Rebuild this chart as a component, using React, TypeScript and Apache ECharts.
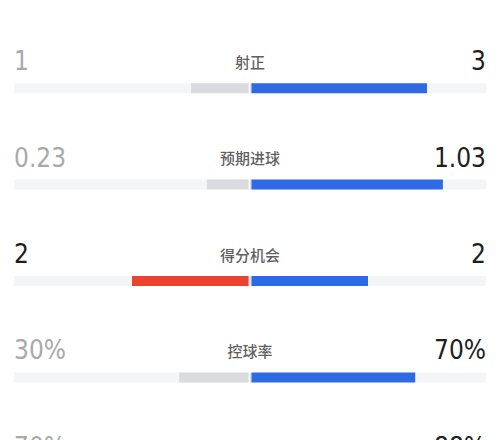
import React, { useEffect, useRef } from "react";
import * as echarts from "echarts";

// match stats: home (left) vs away (right)
const categories = ["射正", "预期进球", "得分机会", "控球率", "传球成功率"];
const leftValues = [1, 0.23, 2, 30, 70];
const rightValues = [3, 1.03, 2, 70, 88];
const leftLabels = ["1", "0.23", "2", "30%", "70%"];
const rightLabels = ["3", "1.03", "2", "70%", "88%"];

const BLUE = "#2d6ae3";
const RED = "#ea4332";
const GREY_BAR = "#d9dbdf";
const TRACK = "#f4f5f7";
const DARK = "#1e1e1e";
const LIGHT = "#a9a9a9";
const NUM_FONT = '"DejaVu Sans Condensed", "Liberation Sans Narrow", sans-serif';

const App: React.FC = () => {
  const chartRef = useRef<HTMLDivElement>(null);

  useEffect(() => {
    document.body.style.margin = "0";
    if (!chartRef.current) return;
    const chart = echarts.init(chartRef.current, undefined, { renderer: "svg" });

    const shareL = leftValues.map((v, i) => v / (v + rightValues[i]));
    const shareR = rightValues.map((v, i) => v / (leftValues[i] + v));
    const leftLoses = leftValues.map((v, i) => v < rightValues[i]);

    const numLabel = {
      show: true,
      distance: 0,
      offset: [0, -27],
      fontFamily: NUM_FONT,
      fontSize: 26,
    };

    const option: echarts.EChartsOption = {
      animation: false,
      grid: { left: 14, right: 14, top: 40, height: 482, outerBoundsMode: "none" } as any,
      xAxis: { type: "value", min: -1, max: 1, show: false },
      yAxis: { type: "category", data: categories, inverse: true, show: false },
      series: [
        {
          type: "bar",
          name: "trackL",
          barWidth: 10,
          barGap: "-100%",
          silent: true,
          itemStyle: { color: TRACK },
          label: {
            ...numLabel,
            position: "insideLeft",
            formatter: (p: any) => leftLabels[p.dataIndex],
          },
          data: categories.map((_, i) => ({
            value: -1,
            label: { color: leftLoses[i] ? LIGHT : DARK },
          })),
        },
        {
          type: "bar",
          name: "trackR",
          barWidth: 10,
          barGap: "-100%",
          silent: true,
          itemStyle: { color: TRACK },
          label: {
            ...numLabel,
            position: "insideRight",
            color: DARK,
            formatter: (p: any) => rightLabels[p.dataIndex],
          },
          data: categories.map(() => 1),
        },
        {
          type: "bar",
          name: "home",
          barWidth: 10,
          barGap: "-100%",
          data: shareL.map((s, i) => ({
            value: -s,
            itemStyle: { color: leftLoses[i] ? GREY_BAR : RED },
          })),
        },
        {
          type: "bar",
          name: "away",
          barWidth: 10,
          barGap: "-100%",
          itemStyle: { color: BLUE },
          data: shareR,
        },
        {
          // white divider at the centre, carries the stat name
          type: "scatter",
          name: "divider",
          z: 5,
          symbol: "rect",
          symbolSize: [3, 12],
          itemStyle: { color: "#ffffff" },
          silent: true,
          label: {
            show: true,
            position: "inside",
            offset: [0, -27],
            color: "#333333",
            fontSize: 15,
            fontWeight: 500,
            fontFamily: '"Noto Sans CJK SC", sans-serif',
            formatter: (p: any) => categories[p.dataIndex],
          },
          data: categories.map((c) => [0, c]),
        },
      ],
    };

    chart.setOption(option);
    return () => {
      chart.dispose();
    };
  }, []);

  return <div ref={chartRef} style={{ width: "500px", height: "440px" }} />;
};

export default App;
